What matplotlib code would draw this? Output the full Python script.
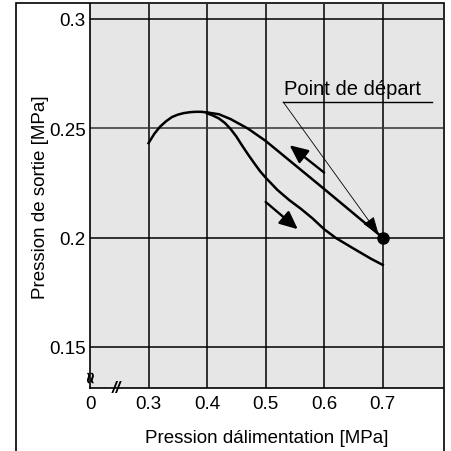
import matplotlib.pyplot as plt
from matplotlib.patches import Rectangle

plt.rcParams['font.family'] = ['Liberation Sans', 'DejaVu Sans']

# courbe montante (0.3 -> sommet)
x_rise = [0.30, 0.31, 0.32, 0.33, 0.34, 0.35, 0.36, 0.37, 0.38, 0.39, 0.40]
y_rise = [0.2432, 0.2475, 0.2508, 0.2532, 0.2551, 0.2562, 0.2569, 0.2573, 0.2575, 0.2575, 0.2572]

# branche haute (retour)
x_upper = [0.40, 0.42, 0.44, 0.47, 0.50, 0.54, 0.57, 0.60, 0.64, 0.67, 0.70]
y_upper = [0.2572, 0.2564, 0.2542, 0.2498, 0.2442, 0.2354, 0.2288, 0.2222, 0.2133, 0.2066, 0.2000]

# branche basse
x_lower = [0.40, 0.41, 0.42, 0.43, 0.44, 0.45, 0.46, 0.47, 0.48, 0.49, 0.50, 0.52, 0.54, 0.56,
           0.58, 0.60, 0.62, 0.65, 0.68, 0.70]
y_lower = [0.2568, 0.2558, 0.2545, 0.2525, 0.2497, 0.2462, 0.2420, 0.2380, 0.2342, 0.2305, 0.2274,
           0.2218, 0.2172, 0.2132, 0.2088, 0.2038, 0.1998, 0.1950, 0.1903, 0.1875]

start_point = (0.70, 0.200)
x_ticks = [0.2, 0.3, 0.4, 0.5, 0.6, 0.7]
x_labels = ['0', '0.3', '0.4', '0.5', '0.6', '0.7']
y_ticks = [0.15, 0.20, 0.25, 0.30]
y_labels = ['0.15', '0.2', '0.25', '0.3']

fig = plt.figure(figsize=(4.51, 4.52), dpi=100)
ax = fig.add_axes([90/451, 63/452, 353/451, 384/452])
ax.set_facecolor('#e6e6e6')
ax.set_xlim(0.2, 0.803)
ax.set_ylim(0.1312, 0.3068)

for x in x_ticks[1:]:
    ax.axvline(x, color='black', lw=1.1, zorder=1)
for y in y_ticks:
    ax.axhline(y, color='#333333' if y == 0.25 else 'black', lw=1.1, zorder=1)

ax.set_xticks(x_ticks)
ax.set_xticklabels(x_labels)
ax.set_yticks(y_ticks)
ax.set_yticklabels(y_labels)
ax.tick_params(length=0, labelsize=13.5)
ax.tick_params(axis='x', pad=5)
ax.tick_params(axis='y', pad=3)
for s in ['top', 'right']:
    ax.spines[s].set_visible(False)
ax.spines['left'].set_linewidth(1.2)
ax.spines['bottom'].set_linewidth(1.2)

ax.plot(x_rise, y_rise, color='black', lw=1.8, zorder=3)
ax.plot(x_upper, y_upper, color='black', lw=1.8, zorder=3)
ax.plot(x_lower, y_lower, color='black', lw=1.8, zorder=3)
ax.plot(*start_point, 'o', color='black', ms=8, zorder=4)

arrow = dict(arrowstyle='-|>,head_length=1.1,head_width=0.5', color='black', lw=1.7, shrinkA=0, shrinkB=0)
ax.annotate('', xy=(0.541, 0.2422), xytext=(0.600, 0.2297), arrowprops=arrow, zorder=4)
ax.annotate('', xy=(0.555, 0.2038), xytext=(0.500, 0.2163), arrowprops=arrow, zorder=4)

# Point de départ
ax.text(0.531, 0.2680, 'Point de départ', fontsize=14.5, va='center', ha='left')
ax.plot([0.530, 0.785], [0.2620, 0.2620], color='black', lw=1.0)
ax.annotate('', xy=(0.693, 0.2015), xytext=(0.530, 0.2620),
            arrowprops=dict(arrowstyle='-|>,head_length=1.1,head_width=0.4', color='black',
                            lw=0.6, shrinkA=0, shrinkB=0), zorder=4)

# marques de coupure
ax.text(0.0, 0.137, '≈', transform=ax.get_yaxis_transform(), rotation=90, fontsize=12,
        ha='center', va='center', family='DejaVu Sans', weight='bold')
ax.text(0.245, 0.0, '//', transform=ax.get_xaxis_transform(), fontsize=12,
        ha='center', va='center', style='italic', weight='bold')

ax.set_xlabel('Pression dálimentation [MPa]', fontsize=13.5, labelpad=12)
ax.set_ylabel('Pression de sortie [MPa]', fontsize=13.5, labelpad=0)

fig.patches.append(Rectangle((16/451, -0.02), 428/451, 448/452 + 0.02, transform=fig.transFigure,
                             fill=False, edgecolor='black', lw=1.2))

fig.savefig('out.png', dpi=100)
